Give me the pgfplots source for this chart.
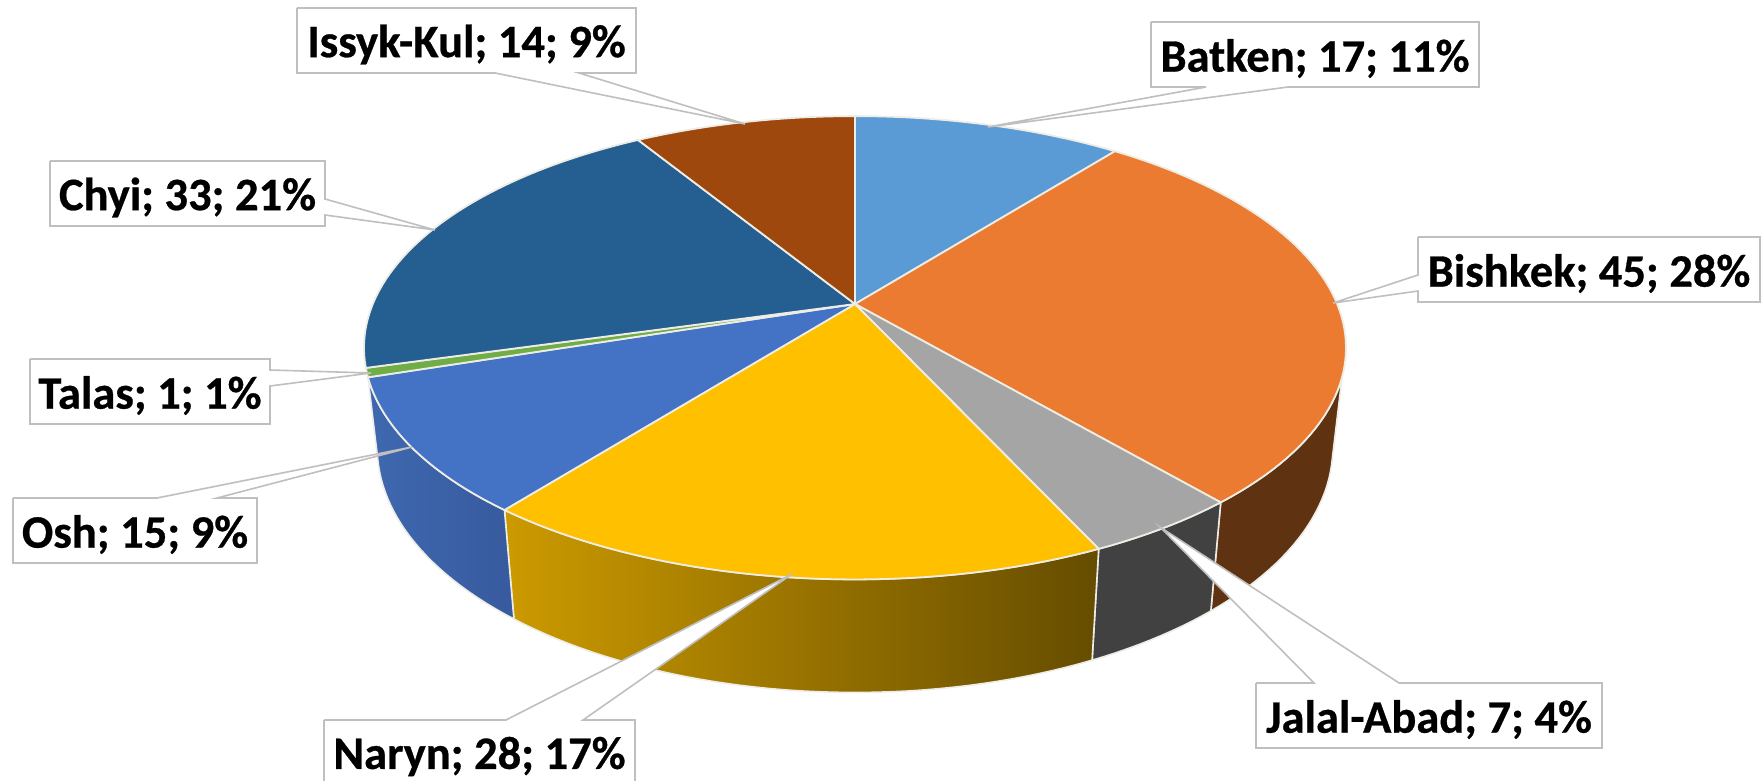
\documentclass[border=0pt]{standalone}
\usepackage{fontspec}
\setmainfont[BoldFeatures={FakeBold=0.6}]{Carlito}
\usepackage{pgfplots}
\usepackage{pgfplotstable}
\pgfplotsset{compat=1.18}

% Regions and their counts, clockwise from twelve o'clock
\pgfplotstableread{
region value share
Batken 17 11
Bishkek 45 28
Jalal-Abad 7 4
Naryn 28 17
Osh 15 9
Talas 1 1
Chyi 33 21
Issyk-Kul 14 9
}\regions

\definecolor{c0}{HTML}{5B9BD5}
\definecolor{c1}{HTML}{EB7B30}
\definecolor{c2}{HTML}{A5A5A5}
\definecolor{c3}{HTML}{FFC000}
\definecolor{c4}{HTML}{4472C4}
\definecolor{c5}{HTML}{70AD47}
\definecolor{c6}{HTML}{255E91}
\definecolor{c7}{HTML}{9E480E}
\definecolor{rim}{HTML}{EDEDE6}
\definecolor{callout}{HTML}{BFBFBF}

% Perspective of the disc: pie centre, semi-axes, foreshortening
\def\cx{855}\def\cy{304}\def\semia{482.2}\def\semib{223.4}\def\persp{0.189}
% Lower rim: narrower towards the centre line and pushed down by the wall height
\def\rimscale{0.973}
% Degrees per counted unit (total of 160)
\def\unitdeg{2.25}

% Append a run of rim points between two cumulative counts
\newcommand\appendarc[3]{%
  \pgfmathtruncatemacro\nseg{max(1,ceil(abs(#2-#1)*\unitdeg/1.5))}%
  \foreach \ii in {0,...,\nseg}{%
    \pgfmathsetmacro\th{(#1+(#2-#1)*\ii/\nseg)*\unitdeg}%
    \pgfmathsetmacro\dd{1+\persp*cos(\th)}%
    \pgfmathsetmacro\px{\cx+\semia*sin(\th)/\dd}%
    \pgfmathsetmacro\py{\cy-\semib*cos(\th)/\dd}%
    \ifnum#3=1
      \pgfmathsetmacro\px{\cx+\rimscale*(\px-\cx)}%
      \pgfmathsetmacro\py{\py+80+0.057*\py}%
    \fi
    \xdef\coords{\coords (\px,\py)}%
  }%
}
% Top face of one slice
\newcommand\topwedge[3]{%
  \xdef\coords{(\cx,\cy)}%
  \appendarc{#1}{#2}{0}%
  \xdef\coords{\coords (\cx,\cy)}%
  \edef\cmd{\noexpand\addplot[fill=#3,draw=rim,line width=1.8pt,line join=round] coordinates {\coords};}\cmd
}
% Side wall: upper rim #1 to #2, lower rim #3 back to #4
\newcommand\sidewall[5]{%
  \gdef\coords{}%
  \appendarc{#1}{#2}{0}%
  \appendarc{#3}{#4}{1}%
  \pgfmathsetmacro\th{#1*\unitdeg}%
  \pgfmathsetmacro\dd{1+\persp*cos(\th)}%
  \pgfmathsetmacro\px{\cx+\semia*sin(\th)/\dd}%
  \pgfmathsetmacro\py{\cy-\semib*cos(\th)/\dd}%
  \xdef\coords{\coords (\px,\py)}%
  \edef\cmd{\noexpand\addplot[#5,draw=rim,line width=1.6pt,line join=round] coordinates {\coords};}\cmd
}
% Label box with its pointer
\newcommand\calloutbox[3]{%
  \addplot[fill=white,draw=callout,line width=1.6pt,line join=miter] coordinates {#1};
  \node[anchor=center,font=\fontsize{46.5}{52}\selectfont\bfseries,text=black,inner sep=0pt,yshift=-4pt] at (axis cs:#2) {#3};
}

\begin{document}
\begin{tikzpicture}
% Running totals of the counts
\xdef\cum{0}
\expandafter\xdef\csname cum0\endcsname{0}
\foreach \r in {0,...,7}{%
  \pgfplotstablegetelem{\r}{value}\of\regions
  \pgfmathsetmacro\nxt{\cum+\pgfplotsretval}%
  \xdef\cum{\nxt}%
  \pgfmathtruncatemacro\rr{\r+1}%
  \expandafter\xdef\csname cum\rr\endcsname{\nxt}%
}
\begin{axis}[
  scale only axis, width=1764pt, height=781pt,
  xmin=0, xmax=1764, ymin=0, ymax=781, y dir=reverse,
  hide axis, clip=false,
]
% Side walls of the front half
\sidewall{48}{\csname cum2\endcsname}{\csname cum2\endcsname}{46.67}{fill={rgb,255:red,95;green,51;blue,18}}
\sidewall{\csname cum2\endcsname}{\csname cum3\endcsname}{\csname cum3\endcsname}{\csname cum2\endcsname}{fill={rgb,255:red,65;green,65;blue,65}}
\sidewall{\csname cum3\endcsname}{\csname cum4\endcsname}{\csname cum4\endcsname}{\csname cum3\endcsname}{left color={rgb,255:red,204;green,154;blue,0},right color={rgb,255:red,101;green,76;blue,0}}
\sidewall{\csname cum4\endcsname}{\csname cum5\endcsname}{113.33}{\csname cum4\endcsname}{left color={rgb,255:red,62;green,104;blue,176},right color={rgb,255:red,56;green,90;blue,158}}
% Top faces
\pgfplotsforeachungrouped \r in {0,1,2,3,4,5,6,7}{%
  \pgfmathtruncatemacro\rr{\r+1}%
  \topwedge{\csname cum\r\endcsname}{\csname cum\rr\endcsname}{c\r}%
}
% Labels
\calloutbox{(1151,22)(1479,22)(1479,87)(1288,87)(988,127)(1206,87)(1151,87)(1151,22)}{1315,54.5}{Batken; 17; 11\%}
\calloutbox{(1418,237)(1760,237)(1760,302)(1418,302)(1418,291)(1333,303)(1418,275)(1418,237)}{1589,269.5}{Bishkek; 45; 28\%}
\calloutbox{(1256,683)(1314,683)(1160,527)(1399,683)(1602,683)(1602,748)(1256,748)(1256,683)}{1429,715.5}{Jalal-Abad; 7; 4\%}
\calloutbox{(324,720)(506,720)(792,574)(583,720)(635,720)(635,790)(324,790)(324,720)}{479.5,752.5}{Naryn; 28; 17\%}
\calloutbox{(13,498)(157,498)(412,447)(217,498)(257,498)(257,563)(13,563)(13,498)}{135,530.5}{Osh; 15; 9\%}
\calloutbox{(30,359)(270,359)(270,370)(371,373)(270,386)(270,424)(30,424)(30,359)}{150,391.5}{Talas; 1; 1\%}
\calloutbox{(50,161)(325,161)(325,199)(435,230)(325,215)(325,226)(50,226)(50,161)}{187.5,193.5}{Chyi; 33; 21\%}
\calloutbox{(297,8)(636,8)(636,73)(579,73)(745,124)(495,73)(297,73)(297,8)}{466.5,40.5}{Issyk-Kul; 14; 9\%}
\end{axis}
\pgfresetboundingbox
\path[use as bounding box] (0,0) rectangle (1764pt,781pt);
\end{tikzpicture}
\end{document}
